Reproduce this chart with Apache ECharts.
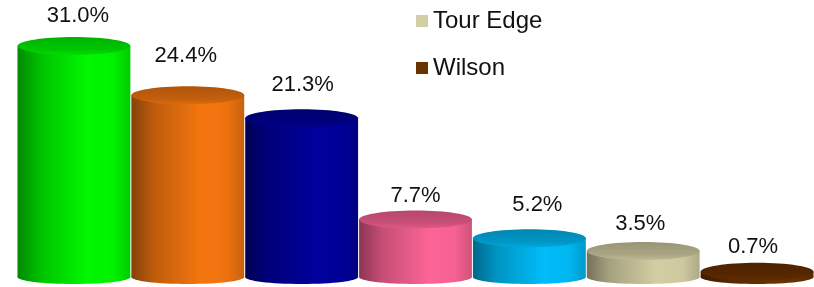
<!DOCTYPE html>
<html lang="en">

<head>
    <meta charset="UTF-8">
    <title>Cylinder share</title>
    <script src="https://cdn.jsdelivr.net/npm/echarts@6/dist/echarts.min.js"></script>
    <style>
        html, body { margin: 0; padding: 0; background: #fff; }
        #chart { width: 814px; height: 287px; }
    </style>
</head>

<body>
    <div id="chart"></div>
</body>
<script>
    var brands = ['Callaway', 'TaylorMade', 'Titleist', 'Ping', 'Cobra', 'Tour Edge', 'Wilson'];
    var shares = [31.0, 24.4, 21.3, 7.7, 5.2, 3.5, 0.7];
    var legendNames = ['Tour Edge', 'Wilson'];
    var colors = ['#00f800', '#f4760f', '#00009c', '#fc6496', '#00bcf8', '#d4cea4', '#6b3100'];
    // label nudges (px) so the labels sit where the original put them
    var labelDx = [4, -2, 1, 0, 8, -3, -4];
    var labelDy = [-30, -39, -33, -24, -33, -27, -25];

    var FONT = '"Liberation Sans", Arial, sans-serif';

    // multiply rgb by k (k<1 darker)
    function shade(hex, k) {
        var c = echarts.color.parse(hex);
        var r = Math.min(255, Math.round(c[0] * k));
        var g = Math.min(255, Math.round(c[1] * k));
        var b = Math.min(255, Math.round(c[2] * k));
        return 'rgb(' + r + ',' + g + ',' + b + ')';
    }

    function bodyGrad(col) {
        return new echarts.graphic.LinearGradient(0, 0, 1, 0, [
            { offset: 0, color: shade(col, 0.55) },
            { offset: 0.2, color: shade(col, 0.78) },
            { offset: 0.62, color: shade(col, 1.0) },
            { offset: 0.85, color: shade(col, 0.97) },
            { offset: 1, color: shade(col, 0.82) }
        ]);
    }

    function topGrad(col) {
        return new echarts.graphic.LinearGradient(0, 0, 0, 1, [
            { offset: 0, color: shade(col, 0.72) },
            { offset: 0.7, color: shade(col, 0.8) },
            { offset: 1, color: shade(col, 0.9) }
        ]);
    }

    function makeRender(col, i) {
        return function (params, api) {
            var idx = api.value(0);
            var v = api.value(1);
            var top = api.coord([idx, v]);
            var base = api.coord([idx, 0]);
            var w = api.size([1, 0])[0];
            var rx = w / 2 - 0.5;
            var ry = 9;
            var cx = top[0];
            return {
                type: 'group',
                children: [
                    {
                        type: 'ellipse',
                        shape: { cx: cx, cy: base[1], rx: rx, ry: ry - 2 },
                        style: { fill: bodyGrad(col) }
                    },
                    {
                        type: 'rect',
                        shape: { x: cx - rx, y: top[1], width: rx * 2, height: base[1] - top[1] },
                        style: { fill: bodyGrad(col) }
                    },
                    {
                        type: 'ellipse',
                        shape: { cx: cx, cy: top[1], rx: rx, ry: ry },
                        style: { fill: topGrad(col) }
                    },
                    {
                        type: 'text',
                        style: {
                            text: v.toFixed(1) + '%',
                            x: cx + labelDx[i],
                            y: top[1] + labelDy[i],
                            align: 'center',
                            verticalAlign: 'middle',
                            fontSize: 22,
                            fontFamily: FONT,
                            fill: '#111'
                        }
                    }
                ]
            };
        };
    }

    var series = brands.map(function (name, i) {
        return {
            name: name,
            type: 'custom',
            renderItem: makeRender(colors[i], i),
            itemStyle: { color: colors[i] },
            encode: { x: 0, y: 1 },
            data: [[i, shares[i]]],
            z: 2 + i
        };
    });

    var chart = echarts.init(document.getElementById('chart'));
    chart.setOption({
        animation: false,
        backgroundColor: '#fff',
        legend: {
            data: legendNames.map(function (n) { return { name: n, icon: 'rect' }; }),
            orient: 'vertical',
            left: 411,
            top: 4,
            itemWidth: 12,
            itemHeight: 12,
            itemGap: 23,
            selectedMode: false,
            textStyle: { fontSize: 24, fontFamily: FONT, color: '#111' }
        },
        grid: { left: 17, width: 798, top: 46, bottom: 10 },
        xAxis: {
            type: 'category',
            data: brands,
            show: false
        },
        yAxis: {
            type: 'value',
            min: 0,
            max: 31,
            show: false
        },
        series: series
    });
</script>

</html>
